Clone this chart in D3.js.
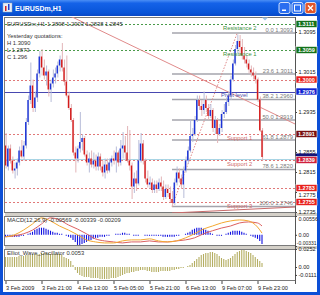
<!DOCTYPE html>
<html><head><meta charset="utf-8">
<script src="https://cdn.jsdelivr.net/npm/d3@7"></script>
<style>
html,body{margin:0;padding:0;background:#fff;}
svg{display:block;font-family:"Liberation Sans",Arial,sans-serif;}
</style></head><body>
<svg id="c" width="320" height="295"></svg>
<script>
// ---------- DATA ----------
const timeTicks = [0,16,32,48,64,80,96,112];
const timeLabels = ["3 Feb 2009","3 Feb 21:00","4 Feb 13:00","5 Feb 05:00","5 Feb 21:00","6 Feb 13:00","9 Feb 07:00","9 Feb 23:00"];
const open = [1.2868,1.2826,1.2862,1.2838,1.2818,1.2822,1.2834,1.2858,1.2846,1.2868,
1.2915,1.2959,1.2988,1.2943,1.2964,1.3012,1.3046,1.3024,1.3008,1.3016,
1.2980,1.2992,1.3004,1.3012,1.3028,1.3040,1.3024,1.2996,1.2968,1.2943,
1.2919,1.2854,1.2842,1.2862,1.2875,1.2883,1.2850,1.2834,1.2842,1.2830,
1.2838,1.2826,1.2846,1.2826,1.2814,1.2830,1.2818,1.2834,1.2842,1.2838,
1.2854,1.2834,1.2862,1.2868,1.2854,1.2838,1.2828,1.2786,1.2802,1.2792,
1.2838,1.2872,1.2838,1.2802,1.2790,1.2794,1.2779,1.2790,1.2781,1.2794,
1.2786,1.2765,1.2781,1.2773,1.2761,1.2753,1.2794,1.2814,1.2802,1.2790,
1.2818,1.2838,1.2858,1.2887,1.2891,1.2919,1.2959,1.2947,1.2939,1.2959,
1.2943,1.2927,1.2939,1.2903,1.2919,1.2891,1.2903,1.2931,1.2935,1.2955,
1.2968,1.3000,1.3032,1.3061,1.3077,1.3065,1.3048,1.3040,1.3032,1.3020,
1.3014,1.3008,1.3000,1.2960,1.2898];
const high = [1.2893,1.2868,1.2870,1.2846,1.2834,1.2842,1.2866,1.2879,1.2877,1.2923,
1.2968,1.3034,1.3000,1.2976,1.3020,1.3057,1.3061,1.3040,1.3028,1.3020,
1.3000,1.3020,1.3024,1.3036,1.3048,1.3073,1.3040,1.3048,1.2976,1.2951,
1.2923,1.2866,1.2868,1.2935,1.2891,1.2887,1.2858,1.2854,1.2858,1.2854,
1.2850,1.2854,1.2852,1.2838,1.2842,1.2842,1.2842,1.2848,1.2858,1.2866,
1.2858,1.2879,1.2895,1.2887,1.2907,1.2899,1.2834,1.2814,1.2818,1.2879,
1.2893,1.2879,1.2842,1.2818,1.2806,1.2802,1.2798,1.2798,1.2802,1.2806,
1.2798,1.2790,1.2790,1.2786,1.2777,1.2802,1.2826,1.2822,1.2810,1.2826,
1.2846,1.2866,1.2919,1.2903,1.2927,1.2968,1.2968,1.2959,1.2976,1.2968,
1.2951,1.2951,1.2943,1.2927,1.2923,1.2911,1.2939,1.2951,1.2964,1.2976,
1.3008,1.3040,1.3069,1.3090,1.3089,1.3081,1.3065,1.3048,1.3040,1.3028,
1.3024,1.3016,1.3004,1.2966,1.2903];
const low = [1.2822,1.2818,1.2832,1.2812,1.2802,1.2808,1.2828,1.2842,1.2838,1.2862,
1.2909,1.2951,1.2935,1.2935,1.2955,1.3004,1.3008,1.3000,1.2988,1.2966,
1.2955,1.2984,1.2992,1.3004,1.3016,1.3016,1.2988,1.2964,1.2939,1.2915,
1.2848,1.2814,1.2834,1.2854,1.2858,1.2846,1.2828,1.2814,1.2824,1.2822,
1.2818,1.2818,1.2818,1.2806,1.2802,1.2812,1.2814,1.2826,1.2830,1.2814,
1.2826,1.2828,1.2842,1.2838,1.2834,1.2818,1.2761,1.2773,1.2777,1.2788,
1.2834,1.2830,1.2794,1.2784,1.2781,1.2773,1.2773,1.2773,1.2777,1.2777,
1.2759,1.2761,1.2765,1.2755,1.2746,1.2749,1.2788,1.2794,1.2781,1.2763,
1.2814,1.2832,1.2854,1.2875,1.2887,1.2915,1.2939,1.2927,1.2931,1.2935,
1.2919,1.2923,1.2895,1.2891,1.2873,1.2887,1.2895,1.2923,1.2931,1.2947,
1.2959,1.2996,1.3028,1.3053,1.3048,1.3040,1.3032,1.3024,1.3012,1.3006,
1.3000,1.2992,1.2955,1.2895,1.2838];
const close = [1.2828,1.2862,1.2838,1.2818,1.2822,1.2834,1.2858,1.2846,1.2868,1.2915,
1.2959,1.2988,1.2943,1.2964,1.3012,1.3046,1.3024,1.3008,1.3016,1.2980,
1.2992,1.3004,1.3012,1.3028,1.3040,1.3024,1.2996,1.2968,1.2943,1.2919,
1.2854,1.2842,1.2862,1.2875,1.2883,1.2850,1.2834,1.2842,1.2830,1.2838,
1.2826,1.2846,1.2826,1.2814,1.2830,1.2818,1.2834,1.2842,1.2838,1.2854,
1.2834,1.2862,1.2868,1.2854,1.2838,1.2828,1.2786,1.2802,1.2792,1.2838,
1.2872,1.2838,1.2802,1.2790,1.2794,1.2779,1.2790,1.2781,1.2794,1.2786,
1.2765,1.2781,1.2773,1.2761,1.2753,1.2794,1.2814,1.2802,1.2790,1.2818,
1.2838,1.2858,1.2887,1.2891,1.2919,1.2959,1.2947,1.2939,1.2951,1.2943,
1.2927,1.2939,1.2903,1.2919,1.2891,1.2903,1.2931,1.2935,1.2955,1.2968,
1.3000,1.3032,1.3061,1.3077,1.3065,1.3048,1.3040,1.3032,1.3020,1.3014,
1.3008,1.3000,1.2960,1.2898,1.2845];

const priceTicks = [1.3095,1.3055,1.3015,1.2975,1.2935,1.2895,1.2855,1.2815,1.2775,1.2735];
const pivotNames = ["Resistance 2","Resistance 1","Pivot level","Support 1","Support 2","Support 3"];
const pivotValues = [1.3111,1.3059,1.2976,1.2891,1.2839,1.2755];
const extraLevels = [1.3000,1.2783];
const bidLine = 1.2841;
const fibRatios = ["0.0","23.6","38.2","50.0","61.8","78.6","100.0"];
const fibValues = [1.3093,1.3011,1.2960,1.2919,1.2879,1.2820,1.2746];
const fibStartBar = 74, fibEndBar = 103;
const trendBars = [28.7,128.7], trendPrices = [1.3127,1.2911];
const lowLineBars = [74,128.7], lowLinePrices = [1.2733,1.2745];
const tagValues = [1.3111,1.3059,1.3000,1.2976,1.2891,1.2839,1.2783,1.2755];
const tagColors = ["#13721a","#13721a","#e8201c","#1020d0","#7a1010","#d0203c","#e8201c","#e8201c"];
const bidTag = 1.2845;

const macdHist = [-0.0006,-0.0006,-0.0006,-0.0006,-0.0006,-0.0006,-0.0006,-0.0003,-0.0003,0,
0.0003,0.0006,0.0009,0.0015,0.0018,0.0021,0.0021,0.0021,0.0018,0.0015,0.0012,0.0009,0.0006,0.0006,0.0003,0.0003,
0,-0.0003,-0.0006,-0.0009,-0.0015,-0.0021,
-0.0030,-0.0030,-0.0027,-0.0024,-0.0021,-0.0018,-0.0015,-0.0012,-0.0009,-0.0009,-0.0006,-0.0006,-0.0006,-0.0003,-0.0003,
0,0,0.0003,0.0003,0.0003,0.0006,0.0006,0.0003,0.0003,0,
-0.0003,-0.0003,-0.0003,0,0,-0.0003,-0.0003,-0.0003,-0.0003,-0.0003,-0.0003,-0.0003,-0.0003,
-0.0006,-0.0006,-0.0006,-0.0006,-0.0006,-0.0006,-0.0003,-0.0003,0,0,
0.0003,0.0006,0.0009,0.0015,0.0018,0.0021,0.0021,0.0021,0.0018,0.0015,0.0012,0.0006,0.0003,
0,-0.0003,-0.0003,-0.0003,0,
0.0003,0.0006,0.0009,0.0012,0.0012,0.0012,0.0012,0.0009,0.0006,
0.0003,0,-0.0003,-0.0006,-0.0009,-0.0012,-0.0018,-0.0027];
const macdLineBars = [0,4,8,12,16,20,24,28,32,36,40,44,48,52,56,60,64,68,72,76,80,84,88,92,96,100,104,108,112,114];
const macdOrange = [-0.0006,0.0000,0.0014,0.0032,0.0050,0.0041,0.0026,0.0014,0.0000,-0.0015,-0.0021,-0.0024,-0.0024,-0.0018,-0.0015,-0.0015,-0.0012,-0.0018,-0.0021,-0.0018,-0.0009,0.0003,0.0017,0.0026,0.0035,0.0041,0.0044,0.0041,0.0023,0.0005];
const macdRed = [-0.0006,-0.0003,0.0003,0.0014,0.0032,0.0050,0.0044,0.0029,0.0017,0.0003,-0.0012,-0.0018,-0.0021,-0.0024,-0.0021,-0.0021,-0.0018,-0.0021,-0.0021,-0.0018,-0.0015,-0.0009,0.0003,0.0012,0.0020,0.0026,0.0035,0.0038,0.0035,0.0026];
const macdTicks = [0.00556,0,-0.00331];

const elliot = [0.014,0.014,0.014,0.014,0.014,0.014,0.0154,0.0154,0.0154,
0.0168,0.0168,0.0168,0.0182,0.0182,0.0182,
0.0182,0.0196,0.0196,0.0196,0.0196,0.0182,0.0182,0.0182,0.0182,0.0182,
0.0168,0.014,0.0126,0.0112,0.0084,
0.0028,-0.0042,-0.0084,
-0.0112,-0.0126,-0.014,-0.014,-0.014,-0.0154,-0.0154,-0.0154,
-0.0154,-0.0168,-0.0168,-0.0168,-0.0168,-0.0168,-0.0154,-0.0154,-0.0154,-0.014,-0.0126,-0.0112,
-0.0098,-0.0084,-0.0084,-0.007,-0.007,-0.0056,
-0.0056,-0.0042,-0.0042,-0.0042,-0.0056,-0.0056,
-0.007,-0.007,-0.007,-0.007,-0.0056,-0.0056,-0.0056,-0.0056,-0.0056,-0.0042,-0.0042,
-0.0028,-0.0028,-0.0014,-0.0014,0,
0.0014,0.0028,0.0056,0.0084,0.0112,0.014,0.0168,0.0182,
0.0196,0.0196,0.021,0.021,0.0196,0.0182,
0.0154,0.0126,0.0112,0.0098,0.0112,
0.0126,0.0154,0.0182,0.021,0.0224,0.0238,0.0238,
0.0224,0.021,0.0196,0.0168,0.014,0.0112,0.0084,0.0056];
const elliotTicks = [0.0252,0,-0.0111];

// ---------- DRAW ----------
const svg = d3.select("#c");
const defs = svg.append("defs");
const gr = defs.append("linearGradient").attr("id","tb").attr("x1",0).attr("y1",0).attr("x2",0).attr("y2",1);
[["0","#4a8ef5"],["0.2","#1462e8"],["0.8","#0854d8"],["1","#0a48c4"]].forEach(s=>gr.append("stop").attr("offset",s[0]).attr("stop-color",s[1]));
defs.append("clipPath").attr("id","mc").append("rect").attr("x",5).attr("y",17).attr("width",290).attr("height",196);
defs.append("clipPath").attr("id","dc").append("rect").attr("x",5).attr("y",216).attr("width",290).attr("height",30);
defs.append("clipPath").attr("id","ec").append("rect").attr("x",5).attr("y",249).attr("width",290).attr("height",32);

// window frame
svg.append("rect").attr("width",320).attr("height",295).attr("fill","#0c4fd6");
svg.append("rect").attr("width",320).attr("height",16).attr("fill","url(#tb)");
svg.append("rect").attr("x",3).attr("y",16).attr("width",314).attr("height",276).attr("fill","#fff");
svg.append("rect").attr("x",3).attr("y",3).attr("width",9).attr("height",9).attr("fill","#e8eef8").attr("stroke","#9ab").attr("stroke-width",0.5);
svg.append("rect").attr("x",5).attr("y",6).attr("width",1.5).attr("height",5).attr("fill","#d02020");
svg.append("rect").attr("x",8).attr("y",4).attr("width",1.5).attr("height",6).attr("fill","#2040d0");
svg.append("text").attr("x",15).attr("y",11).attr("fill","#fff").attr("font-weight","bold").attr("font-size",7).text("EURUSDm,H1");
[[279,"#2a6ef0"],[292,"#2a6ef0"],[305,"#e0562a"]].forEach(b=>{
  svg.append("rect").attr("x",b[0]).attr("y",2.5).attr("width",11).attr("height",11).attr("rx",2).attr("fill",b[1]).attr("stroke","#fff").attr("stroke-width",0.8);
});
svg.append("rect").attr("x",282).attr("y",9.5).attr("width",4).attr("height",1.5).attr("fill","#fff");
svg.append("rect").attr("x",294.5).attr("y",5).attr("width",6).attr("height",6).attr("fill","none").attr("stroke","#fff").attr("stroke-width",1);
svg.append("path").attr("d","M308,5.5L313,10.5M313,5.5L308,10.5").attr("stroke","#fff").attr("stroke-width",1.4);

// scales
const xs = d3.scaleLinear().domain([0,114]).range([5.5,262]);
const yM = d3.scaleLinear().domain([1.2735,1.3095]).range([212,32]);
const yD = d3.scaleLinear().domain([-0.00331,0.00556]).range([246,216]);
const yE = d3.scaleLinear().domain([-0.0196,0.0252]).range([281,249]);

// panels
svg.append("rect").attr("x",5).attr("y",213).attr("width",312).attr("height",3).attr("fill","#d4d0c8");
svg.append("rect").attr("x",5).attr("y",246).attr("width",312).attr("height",3).attr("fill","#d4d0c8");
[[17,213],[216,246],[249,281]].forEach(p=>{
  svg.append("rect").attr("x",4.5).attr("y",p[0]+0.5).attr("width",290.5).attr("height",p[1]-p[0]-1)
    .attr("fill","none").attr("stroke","#7a7a7a").attr("stroke-width",1).attr("shape-rendering","crispEdges");
});

// main panel
const gm = svg.append("g").attr("clip-path","url(#mc)");
const lvl = (v,color,dash,w)=>gm.append("line").attr("x1",5).attr("x2",295).attr("y1",Math.round(yM(v))+0.5).attr("y2",Math.round(yM(v))+0.5)
  .attr("stroke",color).attr("stroke-width",w||1).attr("stroke-dasharray",dash||null);
lvl(bidLine,"#a8d4e4");
pivotValues.forEach((v,k)=>{
  const c = k<2 ? "#4a9a4a" : (k==2 ? "#4848b0" : "#e07878");
  lvl(v,c,k==2?null:"2,2");
});
extraLevels.forEach(v=>lvl(v,"#e07878","2,2"));
fibValues.forEach((v,k)=>{
  gm.append("line").attr("x1",xs(fibStartBar)).attr("x2",295).attr("y1",yM(v)).attr("y2",yM(v))
    .attr("stroke","#a4a4ac").attr("stroke-width",1.3);
});
gm.append("line").attr("x1",xs(trendBars[0])).attr("y1",yM(trendPrices[0])).attr("x2",xs(trendBars[1])).attr("y2",yM(trendPrices[1]))
  .attr("stroke","#e08a8a").attr("stroke-width",1);
gm.append("line").attr("x1",xs(lowLineBars[0])).attr("y1",yM(lowLinePrices[0])).attr("x2",xs(lowLineBars[1])).attr("y2",yM(lowLinePrices[1]))
  .attr("stroke","#c86a6a").attr("stroke-width",1);
gm.append("line").attr("x1",xs(fibStartBar)).attr("y1",yM(fibValues[6])).attr("x2",xs(fibEndBar)).attr("y2",yM(fibValues[0]))
  .attr("stroke","#e08a8a").attr("stroke-width",1).attr("stroke-dasharray","1.5,1.5");

// candles
const idx = d3.range(open.length);
gm.selectAll("line.wick").data(idx).join("line").attr("class","wick")
  .attr("x1",i=>xs(i)+0.6).attr("x2",i=>xs(i)+0.6).attr("y1",i=>yM(high[i])).attr("y2",i=>yM(low[i]))
  .attr("stroke",i=>close[i]>=open[i]?"#b8bcd8":"#e2b4b8").attr("stroke-width",1);
gm.selectAll("rect.body").data(idx).join("rect").attr("class","body")
  .attr("x",i=>xs(i)-0.7).attr("width",1.4)
  .attr("y",i=>yM(Math.max(open[i],close[i])))
  .attr("height",i=>Math.max(1,Math.abs(yM(open[i])-yM(close[i]))))
  .attr("fill",i=>close[i]>=open[i]?"#1a32d8":"#d41a1a");

// texts main
const fs = 5.8;
const tx = (x,y,t,c,anchor)=>svg.append("text").attr("x",x).attr("y",y).attr("fill",c||"#222").attr("font-size",fs).attr("text-anchor",anchor||"start").text(t);
tx(7,26,"EURUSDm,H1  1.2898 1.2903 1.2838 1.2845","#333");
tx(7,38,"Yesterday quotations:","#333");
tx(7,45,"H 1.3090","#333");
tx(7,52,"L 1.2873","#333");
tx(7,59,"C 1.296","#333");
pivotValues.forEach((v,k)=>{
  const c = k<2 ? "#3c903c" : (k==2 ? "#5050a8" : "#d06a6a");
  tx(k<2?223:(k==2?221:227), yM(v)+5.5, pivotNames[k], c);
});
fibValues.forEach((v,k)=>tx(293, yM(v)-1.5, fibRatios[k]+" "+v.toFixed(4), "#7a7a7a","end"));
svg.append("path").attr("d","M262,17.5L268,17.5L265,20.5Z").attr("fill","#9cc0e4");

// right axis
const covered = v => tagValues.some(t=>Math.abs(yM(t)-yM(v))<3.5);
const nudge = v => { const t = tagValues.find(t=>Math.abs(yM(t)-yM(v))<7); return t===undefined?0:(yM(v)>yM(t)?2.2:-2.2); };
const ax = svg.append("g").attr("transform","translate(295,0)")
  .call(d3.axisRight(yM).tickValues(priceTicks).tickFormat(d=>covered(d)?"":d3.format(".4f")(d)).tickSize(2).tickPadding(1.5));
ax.select(".domain").remove();
ax.selectAll("text").attr("font-size",5.6).attr("fill","#222").attr("font-family","Liberation Sans,Arial,sans-serif")
  .attr("y",d=>nudge(d));
ax.selectAll("line").attr("stroke","#444");
svg.append("line").attr("x1",295.5).attr("x2",295.5).attr("y1",17).attr("y2",284).attr("stroke","#555").attr("stroke-width",1);

// price tags
svg.append("rect").attr("x",296).attr("y",yM(bidTag)-3.5).attr("width",21).attr("height",7).attr("fill","#14147a");
tagValues.forEach((v,k)=>{
  const y = yM(v);
  svg.append("rect").attr("x",296).attr("y",y-3.5).attr("width",21).attr("height",7).attr("fill",tagColors[k]).attr("stroke","#fff").attr("stroke-width",0.6);
  svg.append("text").attr("x",298).attr("y",y+2).attr("font-size",5.5).attr("font-weight","bold").attr("fill","#fff").text(v.toFixed(4));
});

// MACD panel
const gd = svg.append("g").attr("clip-path","url(#dc)");
gd.selectAll("line.h").data(idx).join("line").attr("class","h")
  .attr("x1",i=>xs(i)).attr("x2",i=>xs(i)).attr("y1",yD(0)).attr("y2",i=>yD(macdHist[i])+(macdHist[i]==0?0.01:0))
  .attr("stroke","#1010e0").attr("stroke-width",1.1);
const lineD = (vals)=>d3.line().x((d,k)=>xs(macdLineBars[k])).y(d=>yD(d)).curve(d3.curveMonotoneX)(vals);
gd.append("path").attr("d",lineD(macdRed)).attr("fill","none").attr("stroke","#dc6060").attr("stroke-width",1);
gd.append("path").attr("d",lineD(macdOrange)).attr("fill","none").attr("stroke","#f4a830").attr("stroke-width",1);
tx(7,222,"MACD(12,26,9) -0.00569 -0.00339 -0.00209","#333");
const axD = svg.append("g").attr("transform","translate(295,0)")
  .call(d3.axisRight(yD).tickValues(macdTicks).tickFormat((d,k)=>["0.00556","0.00","-0.00331"][k]).tickSize(2).tickPadding(1.5));
axD.select(".domain").remove();
axD.selectAll("text").attr("font-size",(d,k)=>k==2?5.0:5.4).attr("fill","#222").attr("font-family","Liberation Sans,Arial,sans-serif")
  .attr("dy",(d,k)=>k==0?"0.9em":(k==2?"-0.25em":"0.32em"))
  .attr("text-anchor",(d,k)=>k==2?"end":"start").attr("x",(d,k)=>k==2?21.6:3.5);
axD.selectAll("line").attr("stroke","#444");

// Elliot panel
const ge = svg.append("g").attr("clip-path","url(#ec)");
ge.selectAll("line.e").data(idx).join("line").attr("class","e")
  .attr("x1",i=>xs(i)).attr("x2",i=>xs(i)).attr("y1",yE(0)).attr("y2",i=>yE(elliot[i]))
  .attr("stroke","#b4ae62").attr("stroke-width",1.1);
tx(7,255,"Elliot_Wave_Oscillator 0.0053","#333");
const axE = svg.append("g").attr("transform","translate(295,0)")
  .call(d3.axisRight(yE).tickValues(elliotTicks).tickFormat((d,k)=>["0.0252","0.00","-0.0111"][k]).tickSize(2).tickPadding(1.5));
axE.select(".domain").remove();
axE.selectAll("text").attr("font-size",5.6).attr("fill","#222").attr("font-family","Liberation Sans,Arial,sans-serif");
axE.selectAll("line").attr("stroke","#444");

// time axis
const axT = svg.append("g").attr("transform","translate(0,281)")
  .call(d3.axisBottom(xs).tickValues(timeTicks).tickFormat((d,k)=>timeLabels[k]).tickSize(3).tickPadding(2));
axT.select(".domain").remove();
axT.selectAll("text").attr("font-size",5.6).attr("fill","#222").attr("text-anchor","start").attr("font-family","Liberation Sans,Arial,sans-serif");
axT.selectAll("line").attr("stroke","#444");
</script></body></html>
